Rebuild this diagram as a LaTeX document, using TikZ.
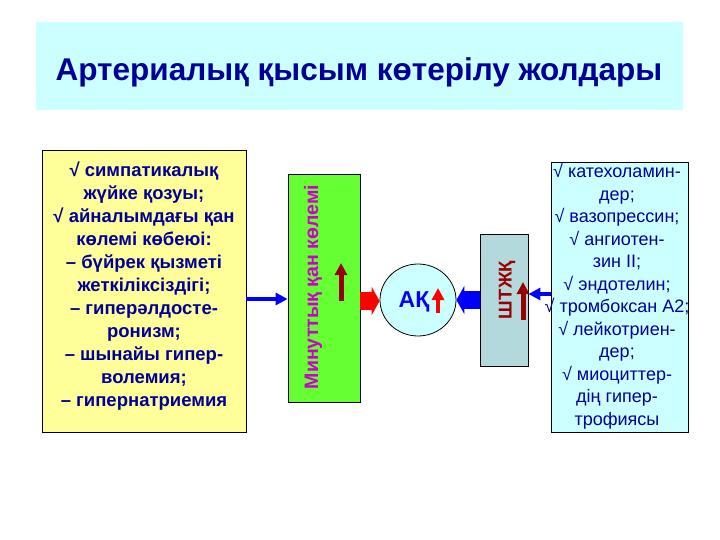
\documentclass[tikz,border=0pt]{standalone}
\usepackage{fontspec}
\setmainfont{Liberation Sans}
\usetikzlibrary{arrows.meta,shapes.geometric}
\definecolor{dblue}{HTML}{000099}
\definecolor{cyanl}{HTML}{CCFFFF}
\definecolor{yell}{HTML}{FFFF99}
\definecolor{grn}{HTML}{66FF33}
\definecolor{mag}{HTML}{CC00CC}
\definecolor{dred}{HTML}{990000}
\definecolor{shtz}{HTML}{B4D9DC}
\tikzset{txt/.style={font=\bfseries\fontsize{18.5}{23}\selectfont,text=dblue,align=center,inner sep=0},
box/.style={draw=black,line width=0.8pt},
upar/.style={-{Triangle[width=12pt,length=12pt]},line width=5pt},
barrow/.style={-{Triangle[width=12pt,length=12pt]},line width=4pt,draw=blue}}
\begin{document}
\begin{tikzpicture}[x=1pt,y=-1pt]
\useasboundingbox (0,0) rectangle (720,540);
\fill[white] (0,0) rectangle (720,540);
\node[fill=cyanl,minimum width=647,minimum height=88,inner sep=0] (title) at (359.5,66) {};
\node[font=\bfseries\fontsize{31.5}{34}\selectfont,text=dblue] (tt) at (359,72) {Артериалық қысым көтерілу жолдары};
\node[box,fill=yell,minimum width=204,minimum height=282,inner sep=0] (left) at (144,291) {};
\node[txt] (lt) at (144,286) {√ симпатикалық\\жүйке қозуы;\\√ айналымдағы қан\\көлемі көбеюі:\\– бүйрек қызметі\\жеткіліксіздігі;\\– гиперәлдосте-\\ронизм;\\– шынайы гипер-\\волемия;\\– гипернатриемия};
\node[box,fill=grn,minimum width=72,minimum height=228,inner sep=0] (mk) at (324,288) {};
\node[rotate=90,font=\bfseries\fontsize{19.5}{22}\selectfont,text=mag] (mkt) at (313,287) {Минуттық қан көлемі};
\draw[upar,draw=dred] (341,301) -- (341,263);
\node[box,fill=cyanl,ellipse,minimum width=76,minimum height=72,inner sep=0] (ak) at (418,300) {};
\node[font=\bfseries\fontsize{23}{25}\selectfont,text=blue] (akt) at (414,302) {АҚ};
\draw[upar,draw=red,line width=3.5pt] (438,313) -- (438,288);
\node[box,fill=shtz,minimum width=48,minimum height=132,inner sep=0] (sh) at (504,300) {};
\node[rotate=90,font=\bfseries\fontsize{18.5}{20}\selectfont,text=dred] (sht) at (507,290) {ШТЖҚ};
\draw[upar,draw=dred] (523,320) -- (523,282);
\node[box,fill=cyanl,minimum width=137,minimum height=270,inner sep=0] (right) at (619.5,297) {};
\node[txt,font=\fontsize{18}{22.5}\selectfont] (rt) at (617,296) {√ катехоламин-\\дер;\\√ вазопрессин;\\√ ангиотен-\\зин II;\\√ эндотелин;\\√ тромбоксан А2;\\√ лейкотриен-\\дер;\\√ миоциттер-\\дің гипер-\\трофиясы};
\draw[barrow] (left.east|-0,299) -- (mk.west|-0,299);
\draw[barrow] (right.west|-0,294) -- (sh.east|-0,294);
\draw[-{Triangle[width=28pt,length=8pt]},line width=18pt,draw=red] (mk.east|-0,301) -- (ak.west|-0,301);
\draw[-{Triangle[width=28pt,length=8pt]},line width=18pt,draw=blue] (sh.west|-0,300) -- (ak.east|-0,300);
\end{tikzpicture}
\end{document}
